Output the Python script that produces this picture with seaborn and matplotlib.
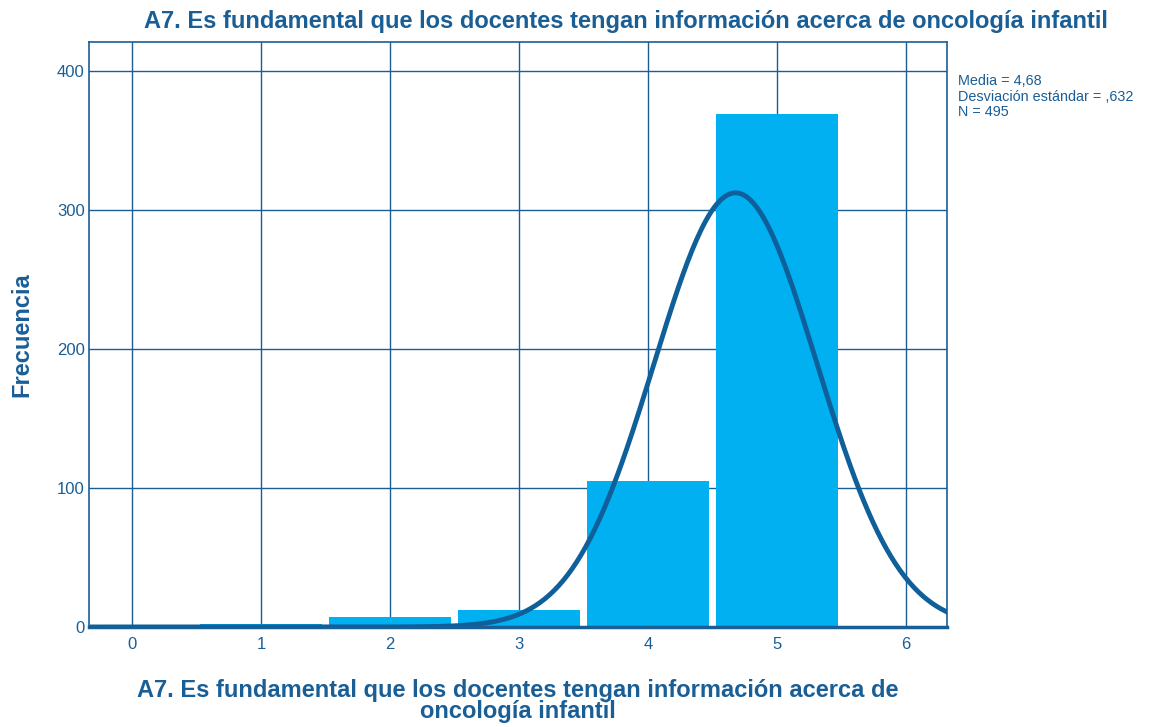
import numpy as np
import pandas as pd
import seaborn as sns
import matplotlib.pyplot as plt

# Data
values = [1, 2, 3, 4, 5]
counts = [2, 7, 12, 105, 369]
media = 4.68
desv = 0.632
n_total = 495

title = "A7. Es fundamental que los docentes tengan información acerca de oncología infantil"
xlabel = "A7. Es fundamental que los docentes tengan información acerca de\noncología infantil"

sns.set_style("white")
plt.rcParams['font.family'] = ['Liberation Sans', 'DejaVu Sans']

dark = '#1a5e96'
bar_color = '#00b0f0'
curve_color = '#0f5f9a'

df = pd.DataFrame({'valor': values, 'frecuencia': counts})

fig = plt.figure(figsize=(11.65, 7.27), dpi=100)
ax = fig.add_axes([0.0764, 0.1376, 0.7365, 0.8046])

sns.histplot(data=df, x='valor', weights='frecuencia', discrete=True,
             shrink=0.945, color=bar_color, alpha=1, edgecolor='none', ax=ax,
             zorder=2)

# normal curve from the reported mean and sd
xs = np.linspace(-0.5, 6.5, 400)
ys = n_total / (desv * np.sqrt(2 * np.pi)) * np.exp(-0.5 * ((xs - media) / desv) ** 2)
sns.lineplot(x=xs, y=ys, color=curve_color, linewidth=3.5, ax=ax, zorder=3)

ax.set_xlim(-0.333, 6.32)
ax.set_ylim(0, 421)
ax.set_xticks(range(0, 7))
ax.set_yticks([0, 100, 200, 300, 400])
ax.grid(True, color=dark, linewidth=1)
ax.set_axisbelow(True)
for s in ax.spines.values():
    s.set_color(dark)
    s.set_linewidth(1.2)
ax.spines['bottom'].set_linewidth(2.5)
ax.tick_params(colors=dark, labelsize=12, length=0)
ax.tick_params(axis='x', pad=7)
ax.tick_params(axis='y', pad=3)

ax.set_xlabel(xlabel, fontsize=17, fontweight='bold', color=dark,
              linespacing=0.93)
ax.xaxis.set_label_coords(0.5, -0.1265)
ax.xaxis.label.set_va('center')
ax.set_ylabel('Frecuencia', fontsize=17, fontweight='bold', color=dark)
ax.yaxis.set_label_coords(-0.078, 0.5)
ax.yaxis.label.set_va('center')

fig.text(0.537, 0.970, title, fontsize=17, fontweight='bold', color=dark,
         ha='center', va='center')
fig.text(0.822, 0.898, "Media = 4,68\nDesviación estándar = ,632\nN = 495",
         fontsize=10.4, color=dark, ha='left', va='top', linespacing=1.15)

fig.savefig('out.png', dpi=100)
